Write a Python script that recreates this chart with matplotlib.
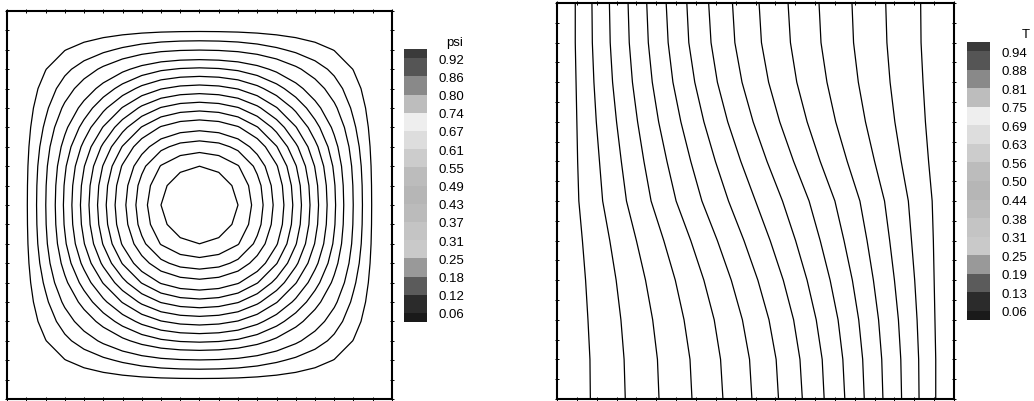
import numpy as np
import matplotlib.pyplot as plt

plt.rcParams['font.family'] = ['Liberation Sans', 'DejaVu Sans']

W, H = 1034, 402

# stream function along the cavity centre line, nodes every 0.05
psi_profile = [0.0, 0.053, 0.178, 0.320, 0.455, 0.590, 0.720, 0.835, 0.920, 0.965, 0.980,
               0.965, 0.920, 0.835, 0.720, 0.590, 0.455, 0.320, 0.178, 0.053, 0.0]
psi_levels = [0.06, 0.12, 0.18, 0.25, 0.31, 0.37, 0.43, 0.49, 0.55, 0.61, 0.67, 0.74, 0.80, 0.86, 0.92]
psi_labels = ['0.06', '0.12', '0.18', '0.25', '0.31', '0.37', '0.43', '0.49',
              '0.55', '0.61', '0.67', '0.74', '0.80', '0.86', '0.92']

# isotherm x positions (15 levels) at heights y = 0, 0.1, ..., 1
T_labels = ['0.06', '0.13', '0.19', '0.25', '0.31', '0.38', '0.44', '0.50',
            '0.56', '0.63', '0.69', '0.75', '0.81', '0.88', '0.94']
iso_y = [0.0, 0.1, 0.2, 0.3, 0.4, 0.5, 0.6, 0.7, 0.8, 0.9, 1.0]
iso_x = [
    [0.084, 0.172, 0.257, 0.340, 0.418, 0.491, 0.558, 0.618, 0.673, 0.725, 0.774, 0.821, 0.868, 0.912, 0.954],
    [0.083, 0.169, 0.253, 0.335, 0.412, 0.485, 0.552, 0.612, 0.668, 0.720, 0.770, 0.818, 0.866, 0.911, 0.954],
    [0.078, 0.161, 0.241, 0.320, 0.396, 0.467, 0.534, 0.596, 0.653, 0.708, 0.760, 0.810, 0.860, 0.907, 0.952],
    [0.072, 0.149, 0.223, 0.298, 0.370, 0.439, 0.506, 0.570, 0.630, 0.688, 0.744, 0.797, 0.850, 0.901, 0.950],
    [0.064, 0.133, 0.200, 0.269, 0.337, 0.404, 0.471, 0.537, 0.601, 0.663, 0.723, 0.781, 0.838, 0.893, 0.948],
    [0.055, 0.115, 0.175, 0.237, 0.300, 0.365, 0.432, 0.500, 0.568, 0.635, 0.700, 0.763, 0.825, 0.885, 0.945],
    [0.052, 0.107, 0.162, 0.219, 0.277, 0.337, 0.399, 0.463, 0.529, 0.596, 0.663, 0.731, 0.800, 0.867, 0.936],
    [0.050, 0.099, 0.150, 0.203, 0.256, 0.312, 0.370, 0.430, 0.494, 0.561, 0.630, 0.702, 0.777, 0.851, 0.928],
    [0.048, 0.093, 0.140, 0.190, 0.240, 0.292, 0.347, 0.404, 0.466, 0.533, 0.604, 0.680, 0.759, 0.839, 0.922],
    [0.046, 0.089, 0.134, 0.182, 0.230, 0.280, 0.332, 0.388, 0.448, 0.515, 0.588, 0.665, 0.747, 0.831, 0.917],
    [0.046, 0.088, 0.132, 0.179, 0.226, 0.275, 0.327, 0.382, 0.442, 0.509, 0.582, 0.660, 0.743, 0.828, 0.916],
]

# grey bands of the legend, bottom to top
band_greys = ['#1a1a1a', '#2b2b2b', '#5b5b5b', '#999999', '#c9c9c9', '#c4c4c4', '#bbbbbb', '#b6b6b6',
              '#bcbcbc', '#cccccc', '#dddddd', '#eeeeee', '#bdbdbd', '#898989', '#555555', '#3a3a3a']


def px_axes(fig, x0, y0, x1, y1):
    return fig.add_axes([x0 / W, 1 - y1 / H, (x1 - x0) / W, (y1 - y0) / H])


def frame(ax):
    ax.set_xlim(0, 1)
    ax.set_ylim(0, 1)
    ticks = np.arange(0, 1.0001, 0.05)
    ax.set_xticks(ticks)
    ax.set_yticks(ticks)
    ax.tick_params(direction='inout', length=3, width=0.7, top=True, right=True,
                   labelbottom=False, labelleft=False)
    for s in ax.spines.values():
        s.set_linewidth(1.5)


def legend(fig, x0, y0, x1, y1, labels, title, title_x, title_y):
    lax = px_axes(fig, x0, y0, x1, y1)
    n = len(labels)
    edges = [0.5] + list(range(1, n + 1)) + [n + 0.5]
    for lo, hi, c in zip(edges[:-1], edges[1:], band_greys):
        lax.axhspan(lo, hi, color=c, lw=0)
    lax.set_ylim(0.5, n + 0.5)
    lax.set_xlim(0, 1)
    lax.set_xticks([])
    lax.set_yticks(range(1, n + 1))
    lax.set_yticklabels(labels)
    lax.yaxis.tick_right()
    lax.tick_params(axis='y', length=0, pad=8, labelsize=9.5)
    for s in lax.spines.values():
        s.set_visible(False)
    fig.text(title_x / W, 1 - title_y / H, title, ha='right', va='center', fontsize=9.5)


fig = plt.figure(figsize=(W / 100, H / 100), dpi=100)

# stream function
ax1 = px_axes(fig, 7, 12, 392, 400)
grid = np.linspace(0, 1, len(psi_profile))
psi = np.outer(psi_profile, psi_profile) / max(psi_profile)
ax1.contour(grid, grid, psi, levels=psi_levels, colors='black', linewidths=0.9)
frame(ax1)
legend(fig, 404, 50, 427, 323, psi_labels, 'psi', 463, 43)

# temperature
ax2 = px_axes(fig, 557, 4, 954, 400)
iso = np.array(iso_x)
for k in range(iso.shape[1]):
    ax2.plot(iso[:, k], iso_y, color='black', lw=0.9)
frame(ax2)
legend(fig, 967, 43, 990, 321, T_labels, 'T', 1030, 35)

fig.savefig('out.png', dpi=100)
